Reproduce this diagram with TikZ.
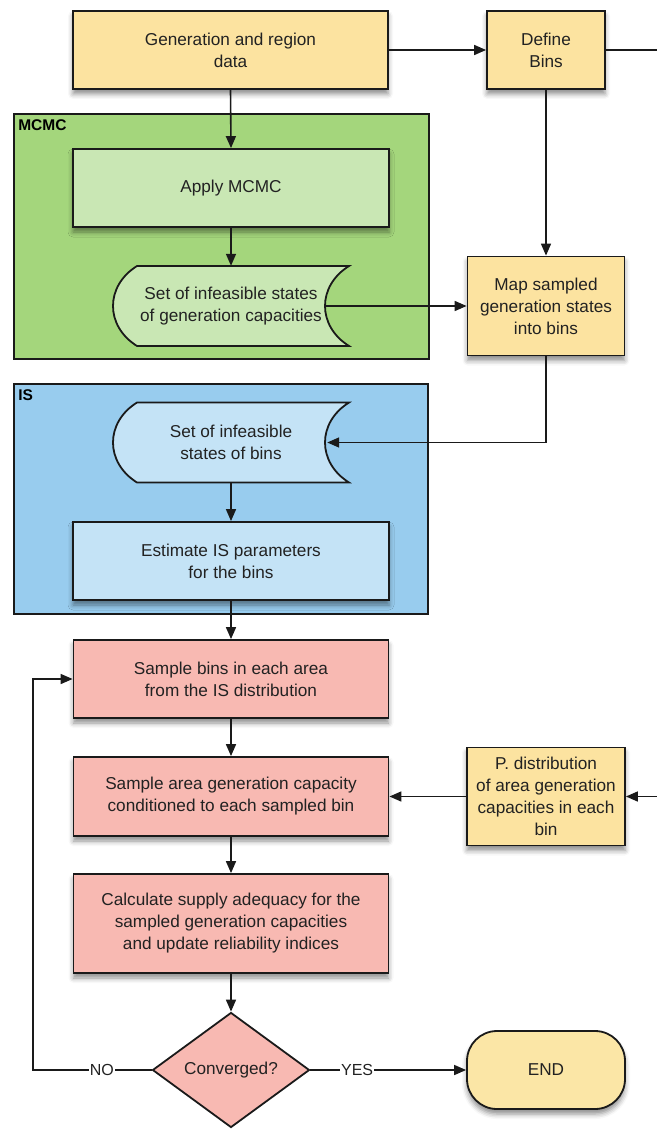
\documentclass[tikz,border=0pt]{standalone}
\usepackage{fontspec}
\setmainfont{Liberation Sans}
\usetikzlibrary{arrows.meta,shapes.geometric,shadows.blur,calc}

\definecolor{edge}{HTML}{1A1A1A}
\definecolor{txt}{HTML}{222222}
\definecolor{yel}{HTML}{FCE3A0}
\definecolor{yelend}{HTML}{FBE6A6}
\definecolor{greenbg}{HTML}{A4D67C}
\definecolor{greenlt}{HTML}{C9E7B4}
\definecolor{bluebg}{HTML}{98CCEE}
\definecolor{bluelt}{HTML}{C4E3F6}
\definecolor{redbox}{HTML}{F8B9B2}

% stored-data symbol: convex left side, concave right side, text node on top
% #1 name, #2 centre x, #3 centre y, #4 fill, #5 text
\newcommand\storeddata[5]{%
  \draw[draw=edge, line width=1.8pt, fill=#4]
    ([shift={(-94,-40)}]#2,#3) -- ([shift={(118,-40)}]#2,#3)
    .. controls ([shift={(86,-20)}]#2,#3) and ([shift={(86,20)}]#2,#3) .. ([shift={(118,40)}]#2,#3)
    -- ([shift={(-94,40)}]#2,#3)
    .. controls ([shift={(-126,20)}]#2,#3) and ([shift={(-126,-20)}]#2,#3) .. ([shift={(-94,-40)}]#2,#3)
    -- cycle;
  \node[storetext] (#1) at (#2,#3) {#5};}

\tikzset{
  every node/.style={font=\fontsize{17.2}{22}\selectfont, text=txt, align=center},
  box/.style={draw=edge, line width=1.8pt, inner sep=3pt,
    blur shadow={shadow xshift=0pt, shadow yshift=-5pt, shadow blur radius=5pt, shadow opacity=45}},
  container/.style={draw=edge, line width=1.8pt, inner sep=0pt},
  grouplabel/.style={font=\fontsize{15.5}{18}\selectfont\bfseries, text=black, inner sep=0pt},
  storetext/.style={minimum width=236pt, minimum height=80pt, inner sep=0pt},
  flow/.style={line width=1.6pt, draw=edge, -{Triangle[length=12pt,width=10pt]}},
  plain/.style={line width=1.6pt, draw=edge},
  branch/.style={font=\fontsize{16}{18}\selectfont, fill=white, inner sep=1pt}
}

\begin{document}
\begin{tikzpicture}[x=1pt,y=-1pt]
\useasboundingbox (0,0) rectangle (656,1131);

% group frames
\node[container, fill=greenbg, minimum width=415pt, minimum height=245pt] (mcmc) at (221.5,236.5) {};
\node[container, fill=bluebg, minimum width=414pt, minimum height=230pt] (is) at (221,499) {};
\node[grouplabel, anchor=north west] (mcmclbl) at ([shift={(5pt,-6pt)}]mcmc.north west) {MCMC};
\node[grouplabel, anchor=north west] (islbl) at ([shift={(5pt,-6pt)}]is.north west) {IS};

% process boxes
\node[box, fill=yel, minimum width=315pt, minimum height=78pt] (gen) at (230.5,50) {Generation and region\\data};
\node[box, fill=yel, minimum width=118pt, minimum height=78pt] (def) at (546,50) {Define\\Bins};
\node[box, fill=greenlt, minimum width=316pt, minimum height=78pt] (apply) at (231,188) {Apply MCMC};
\storeddata{store1}{231}{306}{greenlt}{Set of infeasible states\\of generation capacities}
\node[box, fill=yel, minimum width=157pt, minimum height=99pt] (map) at (546,306) {Map sampled\\generation states\\into bins};
\storeddata{store2}{231}{442.5}{bluelt}{Set of infeasible\\states of bins}
\node[box, fill=bluelt, minimum width=316pt, minimum height=78pt] (est) at (231,561) {Estimate IS parameters\\for the bins};
\node[box, fill=redbox, minimum width=315pt, minimum height=78pt] (samp1) at (231,679) {Sample bins in each area\\from the IS distribution};
\node[box, fill=redbox, minimum width=315pt, minimum height=79pt] (samp2) at (231,796.5) {Sample area generation capacity\\conditioned to each sampled bin};
\node[box, fill=yel, minimum width=158pt, minimum height=98pt] (pdist) at (546,796.5) {P. distribution\\of area generation\\capacities in each\\bin};
\node[box, fill=redbox, minimum width=315pt, minimum height=99pt] (calc) at (231,923.5) {Calculate supply adequacy for the\\sampled generation capacities\\and update reliability indices};
\node[diamond, draw=edge, line width=1.8pt, fill=redbox, aspect=1.37, inner sep=0pt,
      minimum width=157pt, minimum height=115pt] (conv) at (231,1070) {Converged?};
\node[box, fill=yelend, rounded corners=30pt, minimum width=158pt, minimum height=78pt] (end) at (546,1070) {END};

% free ends at the right margin and bends
\coordinate (topout) at (658,50);
\coordinate (midin) at (658,796.5);
\coordinate (mapturn) at (546,442.5);
\coordinate (loopbot) at (33,1070);
\coordinate (looptop) at (33,679);

% connectors
\draw[flow] (gen.east) -- (def.west);
\draw[plain] (def.east) -- (topout);
\draw[flow] (gen.south) -- (apply.north);
\draw[flow] (apply.south) -- (store1.north);
\draw[flow] ([xshift=-24pt]store1.east) -- (map.west);
\draw[flow] (def.south) -- (map.north);
\draw[flow] (map.south) -- (mapturn) -- ([xshift=-22pt]store2.east);
\draw[flow] (store2.south) -- (est.north);
\draw[flow] (est.south) -- (samp1.north);
\draw[flow] (samp1.south) -- (samp2.north);
\draw[flow] (midin) -- (pdist.east);
\draw[flow] (pdist.west) -- (samp2.east);
\draw[flow] (samp2.south) -- (calc.north);
\draw[flow] (calc.south) -- (conv.north);
\draw[flow] (conv.east) -- node[branch, pos=0.3] (yes) {YES} (end.west);
\draw[flow] (conv.west) -- node[branch, pos=0.42] (no) {NO} (loopbot) -- (looptop) -- (samp1.west);
\end{tikzpicture}
\end{document}
